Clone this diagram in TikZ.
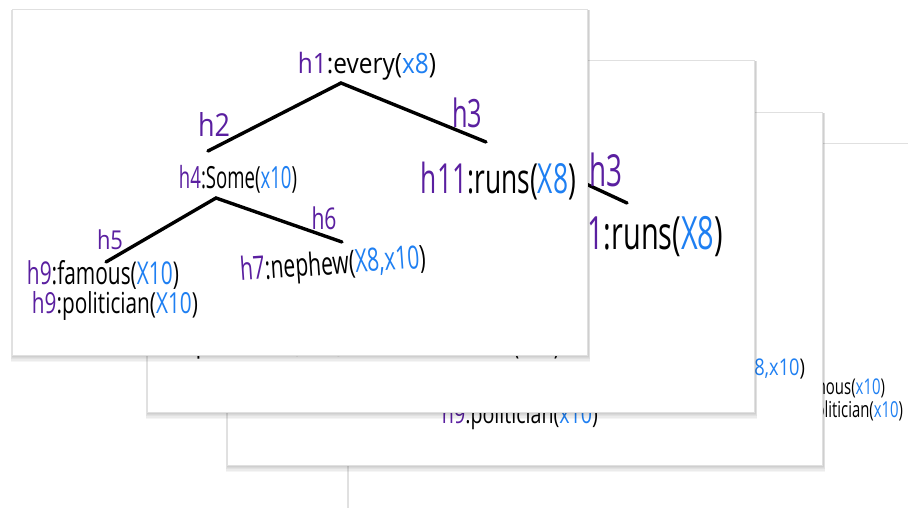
\documentclass[tikz,border=0pt]{standalone}
\usepackage{fontspec}
\setmainfont{Open Sans}
\usepackage{graphicx}
\definecolor{hp}{HTML}{5A1FA0}
\definecolor{xb}{HTML}{1E7FF2}
\newcommand\hP[1]{\textcolor{hp}{#1}}
\newcommand\xB[1]{\textcolor{xb}{#1}}
\newcommand\fitbox[3]{\resizebox*{#1pt}{#2pt}{#3}}
\newcommand\drawcard[4]{%
  \foreach \i in {1,...,6}{\fill[black,opacity=0.04] ({#1-0.4*\i+1},{#2+1}) rectangle ({#3+0.4*\i+1},{#4+1.1*\i});}
  \filldraw[fill=white,draw=black!12,line width=0.5pt] (#1,#2) rectangle (#3,#4);}
\tikzset{
  lbl/.style={inner sep=0pt, outer sep=0pt},
  branch/.style={line width=3.4pt, line cap=round, black}
}
\begin{document}
\begin{tikzpicture}[x=1pt,y=-1pt]
\useasboundingbox (0,0) rectangle (908,508);
\fill[white] (0,0) rectangle (908,508);

% ---- card 4 (rearmost) ----
\drawcard{348}{143}{930}{540}
\node[lbl] (d4a) at (831,387.5) {\fitbox{108}{20}{\hP{h9}:famous(\xB{x10})}};
\node[lbl] (d4b) at (844,412) {\fitbox{118}{22}{\hP{h9}:politician(\xB{x10})}};

% ---- card 3 ----
\drawcard{227}{112}{822}{465}
\node[lbl] (c3a) at (725,370) {\fitbox{160}{23}{\hP{h7}:nephew(\xB{x8,x10})}};
\node[lbl] (c3b) at (520,417) {\fitbox{156}{26}{\hP{h9}:politician(\xB{x10})}};

% ---- card 2 ----
\drawcard{147}{60}{754}{412}
\coordinate (b2apex) at (500,144);
\coordinate (b2r) at (627,203);
\draw[branch] (b2apex) -- (b2r);
\node[lbl] (b2h3) at (606,170) {\fitbox{33}{34}{\hP{h3}}};
\node[lbl] (b2run) at (638,236) {\fitbox{170}{42}{\hP{h11}:runs(\xB{X8})}};
\node[lbl] (b2pol) at (253,343) {\fitbox{181}{32}{\hP{h9}:politician(\xB{x10})}};
\node[lbl] (b2fam) at (485,343) {\fitbox{150}{32}{\hP{h9}:famous(\xB{x10})}};

% ---- card 1 (front) ----
\drawcard{12}{9}{587}{355}
\node[lbl] (every) at (367,66) {\fitbox{138}{28}{\hP{h1}:every(\xB{x8})}};
\coordinate (a1) at (341,83);
\coordinate (l1) at (208,151);
\coordinate (r1) at (486,142);
\draw[branch] (l1) -- (a1) -- (r1);
\node[lbl] (h2) at (214,125) {\fitbox{32}{24}{\hP{h2}}};
\node[lbl] (h3) at (467,113) {\fitbox{30}{30}{\hP{h3}}};

\node[lbl] (some) at (238,179) {\fitbox{118}{28}{\hP{h4}:Some(\xB{x10})}};
\coordinate (a2) at (216,198);
\coordinate (l2) at (106,262);
\coordinate (r2) at (342,242);
\draw[branch] (l2) -- (a2) -- (r2);
\node[lbl] (h5) at (110,240) {\fitbox{26}{20}{\hP{h5}}};
\node[lbl] (h6) at (324,218) {\fitbox{25}{23}{\hP{h6}}};

\node[lbl] (runs) at (498.5,181) {\fitbox{155}{38}{\hP{h11}:runs(\xB{X8})}};
\node[lbl,rotate=4] (nephew) at (333,266) {\fitbox{186}{32}{\hP{h7}:nephew(\xB{X8,x10})}};
\node[lbl] (famous) at (103,275) {\fitbox{152}{29}{\hP{h9}:famous(\xB{X10})}};
\node[lbl] (polit) at (115,306) {\fitbox{166}{29}{\hP{h9}:politician(\xB{X10})}};
\end{tikzpicture}
\end{document}
